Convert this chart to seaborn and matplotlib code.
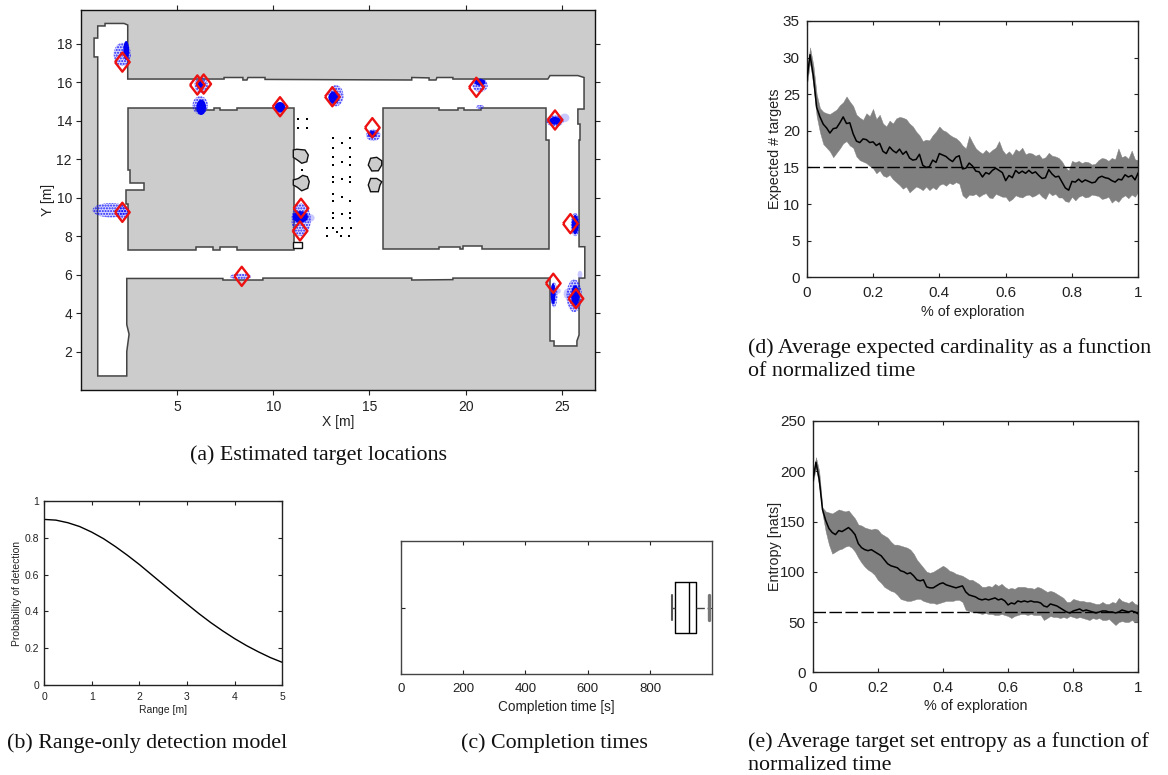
import numpy as np
import pandas as pd
import matplotlib
matplotlib.use("Agg")
import matplotlib.pyplot as plt
from matplotlib.patches import Polygon, Ellipse
import seaborn as sns

# ---------- (a) map data, metres
free_space = [(0.87,18.93),(1.25,18.93),(1.25,19.06),(2.24,19.06),(2.43,18.98),(2.43,16.17),(7.44,16.17),(7.44,16.25),
 (8.42,16.25),(8.42,16.12),(8.63,16.12),(8.68,16.25),(9.57,16.25),(9.57,16.15),(17.2,16.12),(17.2,16.25),(18.1,16.23),
 (18.1,16.12),(18.46,16.12),(18.51,16.25),(19.34,16.25),(19.34,16.17),(24.28,16.17),(24.39,16.35),(25.84,16.35),
 (26.16,16.25),(26.16,14.61),(25.84,14.61),(25.84,13.83),(25.95,13.83),(25.95,13.0),(25.9,13.0),(25.9,7.45),(26.2,7.45),
 (26.2,5.82),(25.9,5.82),(25.9,2.86),(25.79,2.55),(25.79,2.29),(24.6,2.29),(24.6,2.55),(24.39,2.55),(24.39,5.82),
 (19.34,5.82),(19.34,5.74),(17.2,5.72),(17.2,5.82),(9.46,5.82),(9.46,5.72),(7.38,5.72),(7.38,5.8),(2.38,5.8),(2.38,3.4),
 (2.5,2.9),(2.38,2.0),(2.38,0.73),(0.87,0.73),(0.87,17.32),(0.68,17.32),(0.68,18.3),(0.87,18.3)]
left_block = [(2.43,14.66),(5.98,14.66),(5.98,14.56),(6.92,14.56),(6.92,14.66),(7.23,14.66),(7.23,14.56),(8.11,14.56),
 (8.11,14.66),(11.08,14.66),(11.08,7.28),(8.1,7.28),(8.1,7.42),(7.23,7.42),(7.23,7.28),(6.88,7.28),(6.88,7.42),(5.96,7.42),
 (5.96,7.28),(2.43,7.28),(2.43,9.67),(2.33,9.67),(2.33,10.4),(3.28,10.4),(3.28,10.76),(2.55,10.76),(2.55,11.44),(2.43,11.44)]
right_block = [(15.69,14.66),(18.62,14.66),(18.62,14.56),(19.59,14.56),(19.59,14.66),(19.92,14.66),(19.92,14.56),(20.78,14.56),
 (20.78,14.66),(24.2,14.66),(24.2,13.0),(24.35,13.0),(24.35,7.33),(20.84,7.33),(20.84,7.47),(19.87,7.47),(19.87,7.33),
 (19.7,7.33),(19.7,7.42),(18.62,7.42),(18.62,7.33),(15.69,7.33)]
obstacles = [
 [(11.04,12.48),(11.22,12.52),(11.65,12.48),(11.82,12.22),(11.74,11.87),(11.48,11.79),(11.25,11.96),(11.04,12.1)],
 [(11.04,10.92),(11.3,11.0),(11.53,11.16),(11.77,11.09),(11.87,10.83),(11.79,10.49),(11.48,10.36),(11.25,10.54),(11.04,10.66)],
 [(15.64,11.92),(15.38,12.1),(15.06,12.05),(14.94,11.7),(15.12,11.39),(15.46,11.4),(15.64,11.7)],
 [(15.64,10.83),(15.38,11.0),(15.06,11.0),(14.94,10.66),(15.06,10.31),(15.46,10.31),(15.55,10.66)]]
small_box = [(11.04,7.7),(11.5,7.7),(11.5,7.38),(11.04,7.38)]
speck_x = [11.3,11.74,11.3,11.74,13.12,13.99,13.59,13.12,13.99,13.12,13.99,13.59,13.12,13.99,13.12,13.99,13.59,13.12,13.99,
           13.12,13.59,13.12,13.99,13.12,13.99,13.59,13.12,13.99,12.78,13.12,13.59,14.02,13.33,12.78,13.5,13.94,11.51]
speck_y = [14.09,14.09,13.64,13.6,13.09,13.09,12.83,12.6,12.6,12.1,12.1,11.87,11.7,11.7,11.09,11.09,10.97,10.8,10.8,
           10.19,10.05,9.84,9.84,9.22,9.22,9.14,8.93,8.93,8.44,8.44,8.44,8.44,8.23,8.0,8.0,8.0,11.44]
target_x = [2.15,6.05,6.38,10.35,13.07,15.15,20.56,24.65,2.15,11.44,11.39,8.36,25.45,24.56,25.74]
target_y = [17.05,15.86,15.91,14.73,15.25,13.64,15.74,14.04,9.24,9.45,8.27,5.91,8.65,5.55,4.75]
# particle clouds: centre x, centre y, width, height
clouds_light = [(2.15,17.45,0.9,1.2),(6.25,15.85,0.7,0.8),(6.2,14.8,0.8,0.95),(13.25,15.3,0.8,1.1),(15.2,13.25,0.75,0.6),
 (20.75,15.85,0.8,0.7),(20.75,14.72,0.4,0.2),(24.65,14.0,0.9,0.6),(1.55,9.35,1.9,0.75),(2.15,9.25,0.7,0.7),(11.45,8.85,1.0,1.7),
 (8.3,5.9,1.1,0.3),(25.7,8.6,0.45,1.2),(24.6,4.95,0.35,1.3),(25.65,4.9,0.8,1.7)]
clouds_core = [(2.35,17.65,0.3,1.0),(6.2,15.9,0.4,0.5),(6.25,14.7,0.5,0.8),(10.35,14.7,0.55,0.55),(13.15,15.2,0.55,0.65),(15.15,13.3,0.45,0.35),
 (20.75,16.0,0.55,0.35),(24.65,14.0,0.6,0.4),(11.4,9.0,0.8,0.6),(25.7,8.6,0.35,1.0),(24.55,5.0,0.25,1.1),(25.7,4.9,0.42,1.1)]
clouds_pale = [(25.15,14.15,0.5,0.45),(11.9,8.95,0.5,0.4),(24.8,5.15,0.3,0.3),(25.95,6.0,0.25,0.4),(25.25,5.0,0.3,0.5)]

# ---------- (b)
range_m = [0,.25,.5,.75,1,1.25,1.5,1.75,2,2.25,2.5,2.75,3,3.25,3.5,3.75,4,4.25,4.5,4.75,5]
p_detect = [.9,.896,.882,.861,.831,.795,.752,.705,.655,.601,.547,.493,.44,.388,.339,.294,.252,.214,.18,.149,.123]

# ---------- (c)
completion_s = [870,880,925,947,988]

# ---------- (d)
card_mean = [26.8,30.4,27.5,23.2,21.9,20.9,20.4,19.7,20.3,20.4,
 21.1,21.9,21.0,21.1,19.6,18.6,18.4,18.9,18.8,18.4,
 18.5,18.0,18.3,17.2,16.9,17.8,17.3,17.0,17.5,16.8,
 17.2,16.3,16.0,16.1,16.8,15.3,15.0,15.1,16.0,15.7,
 16.9,16.7,16.5,16.1,15.8,16.4,16.6,14.8,14.9,15.6,
 15.2,14.5,14.4,13.7,14.3,14.1,14.6,14.9,14.6,14.3,
 13.2,13.9,13.6,14.6,14.2,14.5,14.2,14.6,14.2,14.4,
 13.9,13.5,13.6,14.7,14.1,13.7,13.8,13.0,12.2,11.9,
 13.1,13.0,13.4,13.0,13.3,13.1,12.9,13.0,13.6,13.8,
 13.6,13.5,13.2,13.0,13.4,13.3,14.0,13.7,13.9,13.3,14.3]
card_upper = [27.5,31.4,29,25,23.1,22.6,22.4,22.3,22.6,22.9,
 23.5,23.9,24.7,24.0,23.4,22.2,21.8,21.5,22.4,22.0,
 23.0,21.6,22.2,21.0,20.6,21.4,21.0,21.7,21.9,21.8,
 21.6,21.0,20.6,19.9,19.4,18.6,18.8,18.7,19.4,19.9,
 20.6,20.1,19.9,19.5,19.2,19.0,18.6,18.0,17.6,19.3,
 18.4,17.6,17.2,16.9,17.4,17.0,17.4,17.7,18.6,17.4,
 16.8,17.2,16.7,17.5,17.2,17.7,16.8,17.0,16.9,16.6,
 16.8,16.2,16.4,17.0,16.6,16.5,16.3,15.8,15.0,14.6,
 15.9,15.7,15.9,15.6,15.8,15.7,15.4,15.5,16.0,16.3,
 16.2,15.9,16.3,16.1,17.6,16.4,16.6,16.2,17.3,16.1,16.0]
card_lower = [26.0,29.4,26.2,22.0,19.8,18.2,17.7,17.2,16.4,17.0,
 17.6,18.3,18.6,18.0,17.7,16.5,16.0,15.8,15.6,15.2,
 14.9,14.2,14.6,13.9,13.7,14.0,13.4,13.0,12.6,12.1,
 12.4,11.6,12.0,12.4,12.2,11.9,12.4,11.9,12.3,12.0,
 12.6,12.8,12.5,12.9,12.7,13.0,12.8,11.2,10.8,11.3,
 11.2,11.4,11.0,11.3,11.5,10.9,10.8,11.4,11.2,11.0,
 11.0,10.4,10.7,11.2,11.0,10.9,11.2,11.3,11.0,11.2,
 11.5,11.0,10.7,11.6,11.2,11.4,10.9,10.9,10.4,10.3,
 11.0,10.5,11.0,11.2,10.9,11.0,11.3,11.2,11.1,10.7,
 10.8,11.0,10.2,10.6,10.3,10.9,11.2,10.8,11.3,11.0,11.7]
card_true = 15

# ---------- (e)
ent_mean = [190,209,192,162,151,143,139,137,141,140,
 142,144,141,137,128,124,122,121,122,120,
 118,116,112,108,106,105,104,101,100,98,
 99,96,92,91,92,85,84,84,86,88,
 89,87,86,85,84,85,86,80,77,76,
 75,73,72,73,72,73,74,72,73,71,
 67,69,68,71,70,71,70,71,70,70,
 69,66,65,68,67,66,64,62,60,59,
 61,62,63,61,62,61,60,59,60,61,
 61,60,60,59,60,62,61,60,61,60,58]
ent_upper = [194,214,200,164,160,159,158,160,162,161,
 160,161,157,153,147,146,144,143,142,143,
 142,138,136,134,130,127,127,126,125,124,
 122,118,112,108,104,100,99,100,102,104,
 106,104,101,100,98,97,96,94,92,92,
 90,88,85,85,86,85,88,86,88,85,
 83,84,83,85,85,85,84,84,83,85,
 84,82,80,81,80,78,76,74,70,70,
 73,72,71,71,70,70,69,68,68,70,
 68,68,70,69,74,71,70,69,71,68,67]
ent_lower = [187,204,185,158,140,127,118,120,122,123,
 125,126,124,120,114,109,105,102,100,97,
 92,89,85,83,81,80,77,73,72,71,
 71,72,73,73,71,70,69,69,68,69,
 70,71,71,71,72,72,70,62,61,60,
 60,59,58,59,58,58,57,57,58,57,
 56,54,56,57,58,58,57,58,57,57,
 57,52,54,56,55,55,54,55,54,56,
 55,54,55,54,53,52,54,53,54,52,
 52,53,50,47,50,51,50,50,52,50,50]
ent_true = 60
exploration = np.arange(101) / 100

# ---------- text
captions = [
 (318, 455, "center", "(a) Estimated target locations"),
 (147, 743, "center", "(b) Range-only detection model"),
 (554, 743, "center", "(c) Completion times"),
 (748, 348, "left", "(d) Average expected cardinality as a function"),
 (748, 371, "left", "of normalized time"),
 (748, 742, "left", "(e) Average target set entropy as a function of"),
 (748, 765, "left", "normalized time"),
]

sns.set_theme(style="white")
plt.rcParams["font.family"] = ["Liberation Sans", "DejaVu Sans"]
plt.rcParams["hatch.linewidth"] = 1.0
W, H = 1168, 775
fig = plt.figure(figsize=(W/100, H/100), dpi=100)

def make_axes(l, t, r, b, tick_size, edge="#222222", xpad=3.5, ypad=3.5, direction="in", length=3.0):
    ax = fig.add_axes([l/W, 1-b/H, (r-l)/W, (b-t)/H])
    for s in ax.spines.values():
        s.set_visible(True); s.set_color(edge); s.set_linewidth(1.0)
    ax.tick_params(direction=direction, length=length, width=0.8, color="#222222", labelcolor="#222222",
                   top=True, right=True, bottom=True, left=True, labelsize=tick_size)
    ax.tick_params(axis="x", pad=xpad); ax.tick_params(axis="y", pad=ypad)
    return ax

# (a)
ax = make_axes(81, 10, 595, 390, 10, "#111111", xpad=3.4, ypad=2.9, direction="out", length=3.6)
ax.set_facecolor("#cccccc")
ax.add_patch(Polygon(free_space, fc="white", ec="#444444", lw=1.1, zorder=1))
for poly in (left_block, right_block):
    ax.add_patch(Polygon(poly, fc="#cccccc", ec="#444444", lw=1.1, zorder=2))
for poly in obstacles:
    ax.add_patch(Polygon(poly, fc="#cccccc", ec="#111111", lw=1.0, zorder=2))
ax.add_patch(Polygon(small_box, fc="white", ec="#111111", lw=1.0, zorder=2))
sns.scatterplot(x=speck_x, y=speck_y, s=1.5, color="black", marker="s", linewidth=0, ax=ax, zorder=3)
for x, y, w, h in clouds_pale:
    ax.add_patch(Ellipse((x, y), w, h, fc=(0.3, 0.3, 1, 0.3), lw=0, zorder=3))
for x, y, w, h in clouds_light:
    ax.add_patch(Ellipse((x, y), w, h, fc=(0.3, 0.3, 1, 0.22), ec=(0, 0, 1, 0.85), hatch="......", lw=0, zorder=4))
for x, y, w, h in clouds_core:
    ax.add_patch(Ellipse((x, y), w, h, fc=(0, 0, 0.95, 1), lw=0, zorder=5))
diamond = [(-0.77, 0), (0, 1), (0.77, 0), (0, -1), (-0.77, 0)]
sns.scatterplot(x=target_x, y=target_y, marker=diamond, s=190, facecolor="none", edgecolor="#ee1111",
                linewidth=1.7, ax=ax, zorder=6)
ax.set_xlim(0, 26.73); ax.set_ylim(0, 19.76)
ax.set_xticks([5, 10, 15, 20, 25]); ax.set_yticks([2, 4, 6, 8, 10, 12, 14, 16, 18])
ax.set_xlabel("X [m]", fontsize=10, color="#222222", labelpad=1)
ax.set_ylabel("Y [m]", fontsize=10, color="#222222", labelpad=1)

# (b)
ax = make_axes(44, 501, 282.3, 685, 7.5, xpad=5)
sns.lineplot(x=range_m, y=p_detect, color="black", lw=1.0, ax=ax, estimator=None)
ax.set_xlim(0, 5); ax.set_ylim(0, 1)
ax.set_xticks(range(6)); ax.set_xticklabels(["0", "1", "2", "3", "4", "5"])
ax.set_yticks([0, .2, .4, .6, .8, 1]); ax.set_yticklabels(["0", "0.2", "0.4", "0.6", "0.8", "1"])
ax.set_xlabel("Range [m]", fontsize=7.5, color="#222222", labelpad=2)
ax.set_ylabel("Probability of detection", fontsize=7.5, color="#222222", labelpad=2)

# (c)
ax = make_axes(400.7, 541, 711.7, 674.3, 9.5, "#444444", xpad=6)
sns.boxplot(x=completion_s, ax=ax, width=.38, fill=False, color="black", linewidth=1.0,
            whiskerprops={"color": "#444444"}, capprops={"color": "#555555"})
for ln in ax.lines:
    xd = np.asarray(ln.get_xdata(), float)
    if xd.size == 2 and xd[0] == xd[1] and xd[0] > 980:
        ln.set_linewidth(2.4); ln.set_color("#777777")
    if xd.size == 2 and xd[0] == xd[1] and xd[0] < 875:
        ln.set_linewidth(1.5); ln.set_color("#555555")
    if xd.size == 2 and xd[0] != xd[1] and xd.max() > 980:
        ln.set_linestyle((0, (6, 2)))
ax.set_xlim(0, 997); ax.set_ylim(0.5, -0.5)
ax.set_xticks([0, 200, 400, 600, 800]); ax.set_xticklabels(["0", "200", "400", "600", "800"])
ax.set_yticks([0]); ax.set_yticklabels([""])
ax.set_xlabel("Completion time [s]", fontsize=9.8, color="#222222", labelpad=4)
ax.set_ylabel("")

def trace_panel(ax, mean, lower, upper, truth, xlabelpad):
    ax.fill_between(exploration, lower, upper, color="#808080", lw=0.3, zorder=2)
    sns.lineplot(data=pd.DataFrame({"x": exploration, "y": mean}), x="x", y="y", color="black",
                 lw=1.1, estimator=None, ax=ax, zorder=4)
    ax.axhline(truth, color="black", lw=1.0, ls=(0, (9, 2.5)), zorder=3)
    ax.set_xlim(0, 1)
    ax.set_xticks([0, .2, .4, .6, .8, 1]); ax.set_xticklabels(["0", "0.2", "0.4", "0.6", "0.8", "1"])
    ax.set_xlabel("% of exploration", fontsize=10.4, color="#222222", labelpad=xlabelpad)

# (d)
ax = make_axes(806.7, 21, 1138.3, 277.3, 11, xpad=6.5, ypad=5)
trace_panel(ax, card_mean, card_lower, card_upper, card_true, 3.5)
ax.set_ylim(0, 35); ax.set_yticks(range(0, 40, 5))
ax.set_ylabel("Expected # targets", fontsize=10.4, color="#222222", labelpad=0.5)

# (e)
ax = make_axes(812.7, 421, 1138.3, 672.3, 11, xpad=6.5, ypad=5)
trace_panel(ax, ent_mean, ent_lower, ent_upper, ent_true, 3)
ax.set_ylim(0, 250); ax.set_yticks(range(0, 300, 50))
ax.set_ylabel("Entropy [nats]", fontsize=10.4, color="#222222", labelpad=-1)

for x, y, ha, s in captions:
    fig.text(x/W, 1-y/H, s, ha=ha, va="center", family=["Liberation Serif", "DejaVu Serif"], fontsize=15.8, color="#111111")

fig.savefig("out.png", dpi=100, facecolor="white")
